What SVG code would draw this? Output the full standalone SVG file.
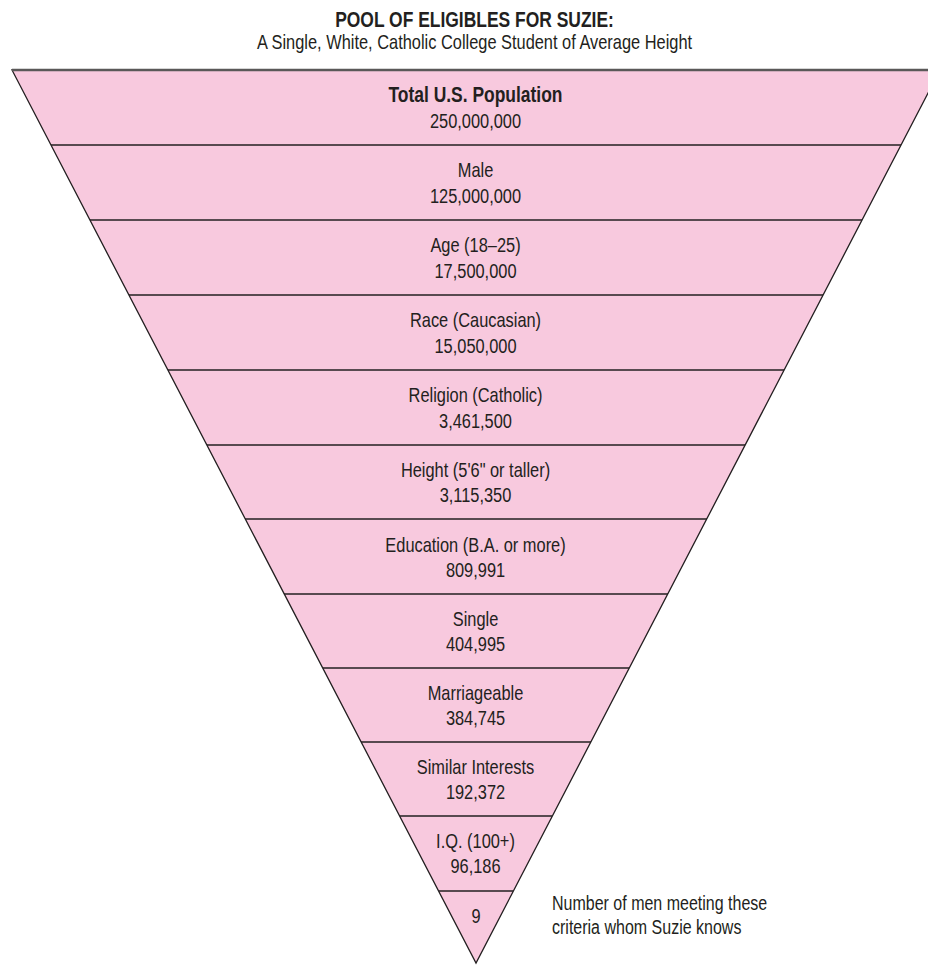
<svg xmlns="http://www.w3.org/2000/svg" width="928" height="965" viewBox="0 0 928 965">
<style>
text{font-family:"Liberation Sans",Arial,sans-serif;fill:#231f20;font-size:20.5px;text-anchor:middle}
.b{font-weight:bold;font-size:21.8px}
.l{text-anchor:start;font-size:20px}
.div{stroke:#231f20;stroke-width:1.3}
</style>
<g id="title" transform="translate(474.5 0) scale(0.8 1)">
<text class="b" x="0" y="27">POOL OF ELIGIBLES FOR SUZIE:</text>
<text x="0" y="49">A Single, White, Catholic College Student of Average Height</text>
</g>
<g id="funnel">
<polygon points="12,70 940,70 476,963" fill="#f8c9de" stroke="#231f20" stroke-width="1.3"/>
<line x1="12" y1="70" x2="928" y2="70" stroke="#5a5858" stroke-width="2.5"/>
</g>
<g id="connectors">
<line class="div" x1="51" y1="145" x2="901" y2="145"/>
<line class="div" x1="90" y1="220" x2="862" y2="220"/>
<line class="div" x1="129" y1="295" x2="823" y2="295"/>
<line class="div" x1="168" y1="370" x2="784" y2="370"/>
<line class="div" x1="207" y1="445" x2="745" y2="445"/>
<line class="div" x1="245" y1="519" x2="707" y2="519"/>
<line class="div" x1="284" y1="594" x2="668" y2="594"/>
<line class="div" x1="323" y1="668" x2="629" y2="668"/>
<line class="div" x1="361" y1="742" x2="591" y2="742"/>
<line class="div" x1="400" y1="816" x2="552" y2="816"/>
<line class="div" x1="439" y1="891" x2="513" y2="891"/>
</g>
<g id="n1" transform="translate(475.5 0) scale(0.8 1)"><text class="b" x="0" y="102">Total U.S. Population</text><text x="0" y="128">250,000,000</text></g>
<g id="n2" transform="translate(475.5 0) scale(0.8 1)"><text x="0" y="177">Male</text><text x="0" y="203">125,000,000</text></g>
<g id="n3" transform="translate(475.5 0) scale(0.8 1)"><text x="0" y="252">Age (18–25)</text><text x="0" y="278">17,500,000</text></g>
<g id="n4" transform="translate(475.5 0) scale(0.8 1)"><text x="0" y="327">Race (Caucasian)</text><text x="0" y="353">15,050,000</text></g>
<g id="n5" transform="translate(475.5 0) scale(0.8 1)"><text x="0" y="402">Religion (Catholic)</text><text x="0" y="428">3,461,500</text></g>
<g id="n6" transform="translate(475.5 0) scale(0.8 1)"><text x="0" y="477">Height (5'6" or taller)</text><text x="0" y="502">3,115,350</text></g>
<g id="n7" transform="translate(475.5 0) scale(0.8 1)"><text x="0" y="552">Education (B.A. or more)</text><text x="0" y="577">809,991</text></g>
<g id="n8" transform="translate(475.5 0) scale(0.8 1)"><text x="0" y="626">Single</text><text x="0" y="651">404,995</text></g>
<g id="n9" transform="translate(475.5 0) scale(0.8 1)"><text x="0" y="700">Marriageable</text><text x="0" y="725">384,745</text></g>
<g id="n10" transform="translate(475.5 0) scale(0.8 1)"><text x="0" y="774">Similar Interests</text><text x="0" y="799">192,372</text></g>
<g id="n11" transform="translate(475.5 0) scale(0.8 1)"><text x="0" y="848">I.Q. (100+)</text><text x="0" y="873">96,186</text></g>
<g id="n12" transform="translate(476 0) scale(0.8 1)"><text x="0" y="923">9</text></g>
<g id="note" transform="translate(552 0) scale(0.8 1)"><text class="l" x="0" y="910">Number of men meeting these</text><text class="l" x="0" y="934">criteria whom Suzie knows</text></g>
</svg>
